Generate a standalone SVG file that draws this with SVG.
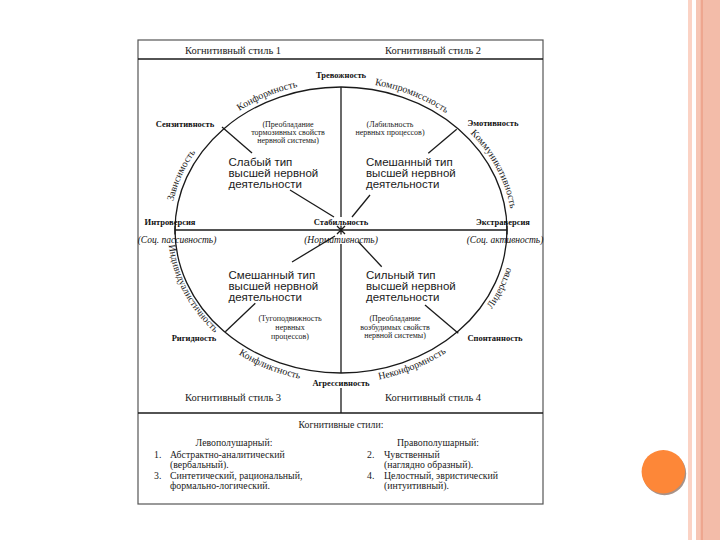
<svg xmlns="http://www.w3.org/2000/svg" width="720" height="540" viewBox="0 0 720 540">
<style>
.ln{stroke:#1a1a1a;stroke-width:1.3;fill:none}
.frame{stroke:#555;stroke-width:1.2;fill:none}
.hdr{font-family:"Liberation Serif",serif;font-size:10.5px;fill:#1a1a1a;text-anchor:middle}
.pole{font-family:"Liberation Serif",serif;font-size:8.5px;font-weight:bold;fill:#111;text-anchor:middle}
.arc{font-family:"Liberation Serif",serif;font-size:10px;fill:#1a1a1a}
.par{font-family:"Liberation Serif",serif;font-size:8px;fill:#1a1a1a;text-anchor:middle}
.ita{font-family:"Liberation Serif",serif;font-size:9.5px;font-style:italic;fill:#111;text-anchor:middle}
.typ{font-family:"Liberation Sans",sans-serif;font-size:11.5px;fill:#1a1a1a}
.leg{font-family:"Liberation Serif",serif;font-size:9.8px;fill:#1a1a1a}
</style>
<defs>
<path id="p-konf" d="M 208.1 136.9 A 171 148 0 0 1 338 82"/>
<path id="p-komp" d="M 341 82 A 171 148 0 0 1 472 134.9"/>
<path id="p-zav" d="M 170.4 240.3 A 171 148 0 0 1 222.2 123.5"/>
<path id="p-komm" d="M 441.5 110.3 A 171 148 0 0 1 511.1 245.5"/>
<path id="p-ind" d="M 169.0 214.3 A 173 150 0 0 0 239.3 351.4"/>
<path id="p-konfl" d="M 206.2 328.3 A 176 153 0 0 0 341 383"/>
<path id="p-nekonf" d="M 341 383 A 176 153 0 0 0 475.8 328.3"/>
<path id="p-lid" d="M 465.5 338.2 A 176 153 0 0 0 517 230"/>
</defs>
<rect width="720" height="540" fill="#ffffff"/>
<g id="slide-decor">
<rect x="688" y="0" width="4" height="540" fill="#fbd3c5"/>
<rect x="696" y="0" width="24" height="540" fill="#f3bca9"/>
<rect x="696" y="0" width="4" height="540" fill="#f6c6b5"/>
<rect x="701" y="0" width="2" height="540" fill="#eea68f"/>
<circle cx="664.5" cy="473.5" r="21.7" fill="#a89288"/>
<circle cx="663.3" cy="471.7" r="21.7" fill="#fd8738"/>
</g>
<g id="frame">
<rect class="frame" x="138" y="40" width="405" height="464"/>
<line class="ln" x1="138" y1="59" x2="543" y2="59"/>
<line class="ln" x1="138" y1="413" x2="543" y2="413"/>
</g>
<g id="circle">
<ellipse class="ln" cx="341" cy="230" rx="166" ry="143"/>
</g>
<g id="connectors">
<line class="ln" x1="341" y1="87" x2="341" y2="217"/>
<line class="ln" x1="341" y1="244" x2="341" y2="373"/>
<line class="ln" x1="341" y1="388" x2="341" y2="413"/>
<line class="ln" x1="175" y1="230" x2="507" y2="230"/>
<line class="ln" x1="175" y1="225.5" x2="175" y2="234.5"/>
<line class="ln" x1="507" y1="225.5" x2="507" y2="234.5"/>
<path class="ln" d="M341 225.5 V234.5 M337 226 L345 234 M345 226 L337 234" stroke-width="1"/>
<line class="ln" x1="222" y1="127" x2="252" y2="153"/>
<line class="ln" x1="290" y1="190" x2="334" y2="217"/>
<line class="ln" x1="456.7" y1="129.3" x2="428.3" y2="153.3"/>
<line class="ln" x1="370" y1="195" x2="352" y2="217"/>
<line class="ln" x1="335" y1="236" x2="292" y2="262"/>
<line class="ln" x1="255.3" y1="303.3" x2="225.3" y2="331.7"/>
<line class="ln" x1="358.3" y1="241.7" x2="381.7" y2="266.7"/>
<line class="ln" x1="425" y1="305" x2="458.3" y2="333.3"/>
</g>
<g id="headers">
<text class="hdr" x="233" y="54">Когнитивный стиль 1</text>
<text class="hdr" x="433" y="54">Когнитивный стиль 2</text>
<text class="hdr" x="233" y="401">Когнитивный стиль 3</text>
<text class="hdr" x="433" y="401">Когнитивный стиль 4</text>
</g>
<g id="poles">
<text class="pole" x="341" y="78">Тревожность</text>
<text class="pole" x="185" y="127">Сензитивность</text>
<text class="pole" x="493" y="126">Эмотивность</text>
<text class="pole" x="170" y="225">Интроверсия</text>
<text class="pole" x="341" y="225">Стабильность</text>
<text class="pole" x="503" y="225">Экстраверсия</text>
<text class="pole" x="194" y="341">Ригидность</text>
<text class="pole" x="495" y="341">Спонтанность</text>
<text class="pole" x="341" y="386">Агрессивность</text>
<text class="ita" x="177" y="243">(Соц. пассивность)</text>
<text class="ita" x="341" y="243">(Нормативность)</text>
<text class="ita" x="505" y="243">(Соц. активность)</text>
</g>
<g id="arc-labels">
<text class="arc" text-anchor="middle"><textPath href="#p-konf" startOffset="50%">Конформность</textPath></text>
<text class="arc" text-anchor="middle"><textPath href="#p-komp" startOffset="50%">Компромиссность</textPath></text>
<text class="arc" text-anchor="middle"><textPath href="#p-zav" startOffset="50%">Зависимость</textPath></text>
<text class="arc" text-anchor="middle"><textPath href="#p-komm" startOffset="50%">Коммуникативность</textPath></text>
<text class="arc" text-anchor="middle" font-size="9px"><textPath href="#p-ind" startOffset="50%">Индивидуалистичность</textPath></text>
<text class="arc" text-anchor="middle"><textPath href="#p-konfl" startOffset="50%">Конфликтность</textPath></text>
<text class="arc" text-anchor="middle"><textPath href="#p-nekonf" startOffset="50%">Неконформность</textPath></text>
<text class="arc" text-anchor="middle"><textPath href="#p-lid" startOffset="50%">Лидерство</textPath></text>
</g>
<g id="q1">
<text class="par" x="288" y="127">(Преобладание</text>
<text class="par" x="288" y="135">тормозивных свойств</text>
<text class="par" x="288" y="143">нервной системы)</text>
<text class="typ" x="228.5" y="166">Слабый тип</text>
<text class="typ" x="228.5" y="177">высшей нервной</text>
<text class="typ" x="228.5" y="188">деятельности</text>
</g>
<g id="q2">
<text class="par" x="390" y="127">(Лабильность</text>
<text class="par" x="390" y="135">нервных процессов)</text>
<text class="typ" x="366" y="166">Смешанный тип</text>
<text class="typ" x="366" y="177">высшей нервной</text>
<text class="typ" x="366" y="188">деятельности</text>
</g>
<g id="q3">
<text class="typ" x="228.5" y="279">Смешанный тип</text>
<text class="typ" x="228.5" y="290">высшей нервной</text>
<text class="typ" x="228.5" y="301">деятельности</text>
<text class="par" x="290" y="321">(Тугоподвижность</text>
<text class="par" x="290" y="330">нервных</text>
<text class="par" x="290" y="339">процессов)</text>
</g>
<g id="q4">
<text class="typ" x="366" y="279">Сильный тип</text>
<text class="typ" x="366" y="290">высшей нервной</text>
<text class="typ" x="366" y="301">деятельности</text>
<text class="par" x="395" y="321">(Преобладание</text>
<text class="par" x="395" y="330">возбудимых свойств</text>
<text class="par" x="395" y="338">нервной системы)</text>
</g>
<g id="legend">
<text class="leg" x="341" y="428" text-anchor="middle">Когнитивные стили:</text>
<text class="leg" x="234" y="446" text-anchor="middle">Левополушарный:</text>
<text class="leg" x="438" y="446" text-anchor="middle">Правополушарный:</text>
<text class="leg" x="154" y="458">1.</text>
<text class="leg" x="170" y="458">Абстрактно-аналитический</text>
<text class="leg" x="170" y="468">(вербальный).</text>
<text class="leg" x="154" y="479">3.</text>
<text class="leg" x="170" y="479">Синтетический, рациональный,</text>
<text class="leg" x="170" y="489">формально-логический.</text>
<text class="leg" x="367" y="458">2.</text>
<text class="leg" x="384" y="458">Чувственный</text>
<text class="leg" x="384" y="468">(наглядно образный).</text>
<text class="leg" x="367" y="479">4.</text>
<text class="leg" x="384" y="479">Целостный, эвристический</text>
<text class="leg" x="384" y="489">(интуитивный).</text>
</g>
</svg>
